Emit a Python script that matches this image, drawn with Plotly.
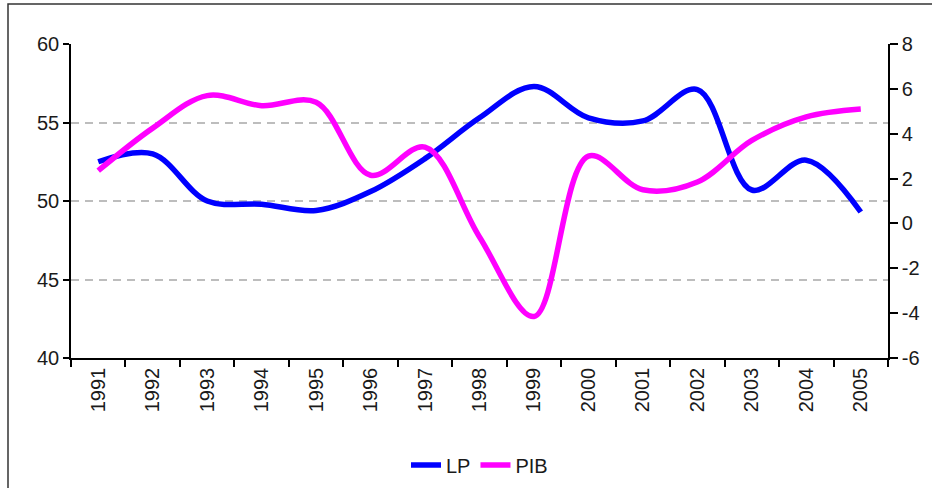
import plotly.graph_objects as go

years = [str(y) for y in range(1991, 2006)]
lp = [52.5, 53.0, 50.0, 49.8, 49.4, 50.6, 52.7, 55.3, 57.3, 55.3, 55.1, 57.1, 50.7, 52.6, 49.3]
pib = [2.35, 4.25, 5.7, 5.25, 5.4, 2.15, 3.4, -0.6, -4.15, 3.0, 1.5, 1.85, 3.7, 4.75, 5.1]

left_ticks = [40, 45, 50, 55, 60]
right_ticks = [-6, -4, -2, 0, 2, 4, 6, 8]
right_labels = [str(v) for v in right_ticks]

FONT = "Liberation Sans, Arial, sans-serif"

fig = go.Figure()
fig.add_trace(go.Scatter(x=years, y=lp, name="LP", mode="lines",
                         line=dict(color="#0000FF", width=5.5, shape="spline", smoothing=1.0),
                         yaxis="y"))
fig.add_trace(go.Scatter(x=years, y=pib, name="PIB", mode="lines",
                         line=dict(color="#FF00FF", width=5.5, shape="spline", smoothing=1.0),
                         yaxis="y2"))

L, R, T, B = 71, 44, 44, 130
W, H = 932, 488
pw, ph = W - L - R, H - T - B

fig.update_layout(
    width=W, height=H,
    margin=dict(l=L, r=R, t=T, b=B, pad=0, autoexpand=False),
    paper_bgcolor="white", plot_bgcolor="white",
    font=dict(family=FONT, size=20, color="#1a1a1a"),
    showlegend=True,
    legend=dict(orientation="h", x=0.5, xanchor="center", y=(358 - 465) / ph, yanchor="middle",
                font=dict(size=20), bgcolor="rgba(0,0,0,0)"),
    xaxis=dict(type="category", range=[-0.5, 14.5], showline=True, linecolor="black", linewidth=1.5,
               ticks="outside", ticklen=7, tickcolor="black", tickwidth=1.5, tickson="boundaries",
               tickangle=-90, showgrid=False, zeroline=False, tickfont=dict(size=20)),
    yaxis=dict(range=[40, 60], tickvals=left_ticks, showline=True, linecolor="black", linewidth=1.5,
               ticks="outside", ticklen=6, tickcolor="black", tickwidth=1.5,
               showgrid=True, gridcolor="#BDBDBD", gridwidth=1.5, griddash="8px,6px",
               zeroline=False, tickfont=dict(size=20)),
    yaxis2=dict(range=[-6, 8], tickvals=right_ticks, ticktext=right_labels, overlaying="y",
                side="right", showline=True, linecolor="black", linewidth=1.5, ticks="outside",
                ticklen=8, tickcolor="black", tickwidth=1.5, showgrid=False, zeroline=False,
                tickfont=dict(size=20)),
    shapes=[dict(type="rect", xref="paper", yref="paper",
                 x0=(8 - L) / pw, x1=(W + 20 - L) / pw,
                 y0=(T + ph - (H + 20)) / ph, y1=(T + ph - 4) / ph,
                 line=dict(color="#333333", width=1.5), fillcolor="rgba(0,0,0,0)", layer="below")],
)

fig.write_html("out.html", config={"displayModeBar": False})

with open("out.html", "r", encoding="utf-8") as f:
    html = f.read()
html = html.replace("<head>", "<head><style>html,body{margin:0;padding:0;overflow:hidden;}</style>", 1)
with open("out.html", "w", encoding="utf-8") as f:
    f.write(html)
